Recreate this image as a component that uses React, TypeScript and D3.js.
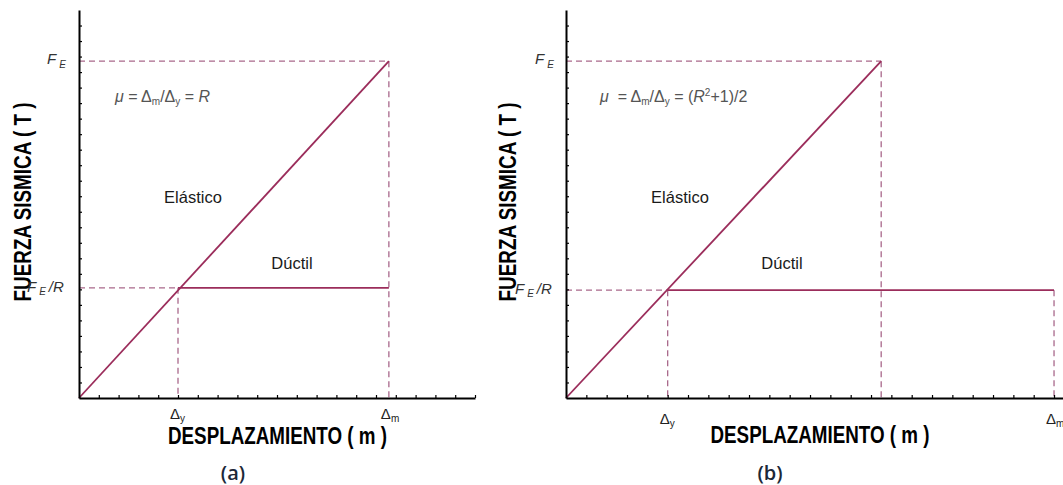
import React, { useEffect, useRef } from 'react';
import * as d3 from 'd3';

// two panels: (a) equal displacement, (b) equal energy
const panels = ['a', 'b'];
const xMax = [20, 24.5];
const yMax = [25, 25];
const deltaY = [5, 5];
const peakX = [15.65, 15.5];
const deltaM = [15.65, 24];
const forceE = [21.7, 21.7];
const forceY = [7.1, 6.95];
const regionLabels = ['Elástico', 'Dúctil'];

const solidColor = '#9b2d5b';
const dashColor = '#a9688b';

const W = 1063;
const H = 485;

// layout per panel (pixels)
const layout = [
  { x0: 79, x1: 475, y0: 398, y1: 10, yLab: 30.5, xLabX: 277.5, xLabY: 444, capX: 233, fe: 47, fer: 27, formX: 115, elX: 193, duX: 292, dBase: 419 },
  { x0: 566, x1: 1064.2, y0: 398, y1: 10, yLab: 515.5, xLabX: 820, xLabY: 443, capX: 770, fe: 535, fer: 515, formX: 600, elX: 680, duX: 782, dBase: 424 },
];

function drawPanel(svg, i) {
  const L = layout[i];
  const x = d3.scaleLinear().domain([0, xMax[i]]).range([L.x0, L.x1]);
  const y = d3.scaleLinear().domain([0, yMax[i]]).range([L.y0, L.y1]);
  const g = svg.append('g').attr('class', 'panel-' + panels[i]);

  // dashed guides
  const guides = [
    [[0, forceE[i]], [peakX[i], forceE[i]]],
    [[peakX[i], forceE[i]], [peakX[i], 0]],
    [[0, forceY[i]], [deltaY[i], forceY[i]]],
    [[deltaY[i], forceY[i]], [deltaY[i], 0]],
  ];
  if (deltaM[i] !== peakX[i]) guides.push([[deltaM[i], forceY[i]], [deltaM[i], 0]]);
  const line = d3.line().x(d => x(d[0])).y(d => y(d[1]));
  g.selectAll('path.guide')
    .data(guides)
    .enter()
    .append('path')
    .attr('class', 'guide')
    .attr('d', line)
    .attr('fill', 'none')
    .attr('stroke', dashColor)
    .attr('stroke-width', 1.3)
    .attr('stroke-dasharray', '6,4');

  // elastic and ductile branches
  g.append('path')
    .attr('d', line([[0, 0], [peakX[i], forceE[i]]]))
    .attr('fill', 'none')
    .attr('stroke', solidColor)
    .attr('stroke-width', 1.8);
  g.append('path')
    .attr('d', line([[deltaY[i], forceY[i]], [deltaM[i], forceY[i]]]))
    .attr('fill', 'none')
    .attr('stroke', solidColor)
    .attr('stroke-width', 1.8);

  // axes
  const xAxis = d3
    .axisBottom(x)
    .tickValues(d3.range(1, Math.floor(xMax[i]) + 1))
    .tickSize(-3)
    .tickSizeOuter(0)
    .tickFormat(() => '');
  const yAxis = d3
    .axisLeft(y)
    .tickValues(d3.range(1, yMax[i]))
    .tickSize(-3)
    .tickSizeOuter(0)
    .tickFormat(() => '');
  const xg = g.append('g').attr('transform', `translate(0,${L.y0})`).call(xAxis);
  const yg = g.append('g').attr('transform', `translate(${L.x0},0)`).call(yAxis);
  [xg, yg].forEach(a => {
    a.select('.domain').attr('stroke', '#000').attr('stroke-width', 2);
    a.selectAll('.tick line').attr('stroke', '#000').attr('stroke-width', 1.2);
  });

  const sans = 'Liberation Sans, Arial, sans-serif';

  // axis titles
  g.append('text')
    .attr('transform', `translate(${L.yLab},202) rotate(-90)`)
    .attr('text-anchor', 'middle')
    .attr('font-family', sans)
    .attr('font-weight', 'bold')
    .attr('font-size', 23)
    .attr('textLength', 199)
    .attr('lengthAdjust', 'spacingAndGlyphs')
    .text('FUERZA SISMICA ( T )');
  g.append('text')
    .attr('x', L.xLabX)
    .attr('y', L.xLabY)
    .attr('text-anchor', 'middle')
    .attr('font-family', sans)
    .attr('font-weight', 'bold')
    .attr('font-size', 23)
    .attr('textLength', 219)
    .attr('lengthAdjust', 'spacingAndGlyphs')
    .text('DESPLAZAMIENTO ( m )');

  // F_E and F_E/R labels
  const fe = g.append('text').attr('font-family', sans).attr('font-style', 'italic').attr('fill', '#333');
  fe.append('tspan').attr('x', L.fe).attr('y', y(forceE[i]) + 3).attr('font-size', 15).text('F');
  fe.append('tspan').attr('dx', 3).attr('dy', 4).attr('font-size', 10).text('E');
  const fer = g.append('text').attr('font-family', sans).attr('font-style', 'italic').attr('fill', '#333');
  fer.append('tspan').attr('x', L.fer).attr('y', y(forceY[i]) + 4).attr('font-size', 15).text('F');
  fer.append('tspan').attr('dx', 3).attr('dy', 3).attr('font-size', 10).text('E');
  fer.append('tspan').attr('dx', 3).attr('dy', -3).attr('font-size', 15).text('/R');

  // displacement labels
  const dl = [
    [deltaY[i], 'y'],
    [deltaM[i], 'm'],
  ];
  dl.forEach(([v, s]) => {
    const t = g.append('text').attr('font-family', sans).attr('fill', '#222');
    t.append('tspan').attr('x', x(v) - 8).attr('y', L.dBase).attr('font-size', 15).text('Δ');
    t.append('tspan').attr('dy', 3).attr('font-size', 10).text(s);
  });

  // ductility formula
  const f = g
    .append('text')
    .attr('x', L.formX)
    .attr('y', 102)
    .attr('font-family', sans)
    .attr('font-size', 16)
    .attr('fill', '#555')
    .style('white-space', 'pre');
  f.append('tspan').attr('font-style', 'italic').text('μ');
  f.append('tspan').text(i === 0 ? ' = Δ' : '  = Δ');
  f.append('tspan').attr('dy', 3).attr('font-size', 10).text('m');
  f.append('tspan').attr('dy', -3).text('/Δ');
  f.append('tspan').attr('dy', 3).attr('font-size', 10).text('y');
  if (i === 0) {
    f.append('tspan').attr('dy', -3).text(' = ');
    f.append('tspan').attr('font-style', 'italic').text('R');
  } else {
    f.append('tspan').attr('dy', -3).text(' = (');
    f.append('tspan').attr('font-style', 'italic').text('R');
    f.append('tspan').attr('dy', -6).attr('font-size', 10).text('2');
    f.append('tspan').attr('dy', 6).text('+1)/2');
  }

  // region labels
  g.append('text')
    .attr('x', L.elX)
    .attr('y', 203)
    .attr('text-anchor', 'middle')
    .attr('font-family', sans)
    .attr('font-size', 16.5)
    .attr('fill', '#1a1a1a')
    .text(regionLabels[0]);
  g.append('text')
    .attr('x', L.duX)
    .attr('y', 269)
    .attr('text-anchor', 'middle')
    .attr('font-family', sans)
    .attr('font-size', 16.5)
    .attr('fill', '#1a1a1a')
    .text(regionLabels[1]);

  // caption
  g.append('text')
    .attr('x', L.capX)
    .attr('y', 480)
    .attr('text-anchor', 'middle')
    .attr('font-family', 'Open Sans, Noto Sans, sans-serif')
    .attr('font-weight', 600)
    .attr('font-size', 20)
    .attr('fill', '#1c2838')
    .text(`(${panels[i]})`);
}

export default function App() {
  const ref = useRef(null);

  useEffect(() => {
    const svg = d3.select(ref.current);
    svg.selectAll('*').remove();
    svg.append('rect').attr('width', W).attr('height', H).attr('fill', '#fff');
    panels.forEach((p, i) => drawPanel(svg, i));
  }, []);

  return (
    <svg
      ref={ref}
      width={W}
      height={H}
      style={{ position: 'absolute', left: 0, top: 0, display: 'block' }}
    />
  );
}
